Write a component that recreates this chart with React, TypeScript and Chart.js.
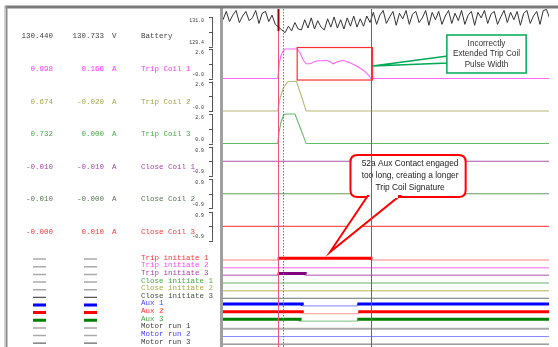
import React, { useEffect, useRef } from "react";
import { Chart, registerables } from "chart.js";

Chart.register(...registerables);

// ---------- time axis (ms) ----------
const X_MIN = -33.5;
const X_MAX = 166;
const cursorTimes = [0, 57];
const dottedCursorTime = 3;

// ---------- Battery (V), sampled every 2 ms ----------
const batteryStart = -33.5;
const batteryStep = 2;
const batteryValues = [
  130.85, 131.3, 130.75, 131.1, 131.35, 130.7, 131.05, 131.3, 130.8, 130.95, 131.35, 130.65, 131.2, 131.3, 130.75, 131.1, 130.6,
  130.45, 130.3, 130.15, 130.5, 130.25, 130.7, 130.35, 130.3, 130.85, 130.4, 130.95, 130.35, 130.8, 130.45, 130.3, 130.9,
  130.45, 131.0, 130.4, 130.85, 130.35, 130.95, 130.5, 131.05, 130.45, 130.9, 130.5, 131.05, 130.7,
  131.25, 130.6, 131.1, 131.35, 130.65, 131.0, 131.3, 130.55, 131.2, 130.9, 131.35, 130.6, 131.15, 131.3, 130.7, 130.95,
  131.35, 130.55, 131.25, 130.85, 131.3, 130.6, 131.05, 131.35, 130.65, 131.2, 130.8, 131.35, 130.6, 131.1, 131.3, 130.55,
  131.25, 130.95, 131.35, 130.65, 131.15, 131.3, 130.6, 131.0, 131.35, 130.7, 131.25, 130.85, 131.3, 130.55, 131.2, 131.35,
  130.65, 131.05, 131.3, 130.6, 131.35, 131.4, 130.9,
];

// ---------- coil currents (A): [time ms, value] ----------
const tripCoil1 = [
  [X_MIN, 0], [0, 0], [0.5, 0.6], [1.0, 1.4], [1.8, 1.9], [3.0, 2.35], [4.5, 2.6], [11.9, 2.6], [13.7, 2.25],
  [15.5, 1.65], [17.4, 1.3], [19.8, 1.3], [22.3, 1.47], [24.7, 1.56], [27.2, 1.56], [29.6, 1.6], [32.0, 1.47],
  [33.9, 1.3], [36.3, 1.47], [40.0, 1.6], [42.4, 1.47], [45.5, 1.3], [49.1, 1.04], [52.8, 0.69], [55.2, 0.35],
  [57.1, 0], [X_MAX, 0],
];
const tripCoil2 = [
  [X_MIN, 0], [0, 0], [1.5, 1.15], [3.4, 2.0], [5.9, 2.55], [7.0, 2.6], [11.5, 2.6], [14.5, 1.3], [17.4, 0], [X_MAX, 0],
];
const tripCoil3 = [
  [X_MIN, 0], [0, 0], [0.8, 1.0], [2.0, 1.9], [3.5, 2.5], [5.0, 2.6], [10.5, 2.6], [14.0, 1.3], [17.4, 0], [X_MAX, 0],
];
const closeCoil1 = [[X_MIN, 0], [X_MAX, 0]];
const closeCoil2 = [[X_MIN, 0], [X_MAX, 0]];
const closeCoil3 = [[X_MIN, 0], [X_MAX, 0]];

// ---------- digital channels: [time ms, state] (state holds from that time) ----------
const tripInit1 = [[X_MIN, 0], [0, 1], [57, 0], [X_MAX, 0]];
const tripInit2 = [[X_MIN, 0], [X_MAX, 0]];
const tripInit3 = [[X_MIN, 0], [0, 1], [16.8, 0], [X_MAX, 0]];
const closeInit1 = [[X_MIN, 0], [X_MAX, 0]];
const closeInit2 = [[X_MIN, 0], [X_MAX, 0]];
const closeInit3 = [[X_MIN, 0], [X_MAX, 0]];
const aux1 = [[X_MIN, 1], [15.0, 0], [48.7, 1], [X_MAX, 1]];
const aux2 = [[X_MIN, 1], [15.0, 0], [49.3, 1], [X_MAX, 1]];
const aux3 = [[X_MIN, 1], [13.7, 0], [48.7, 1], [X_MAX, 1]];
const motorRun1 = [[X_MIN, 0], [X_MAX, 0]];
const motorRun2 = [[X_MIN, 0], [X_MAX, 0]];
const motorRun3 = [[X_MIN, 0], [X_MAX, 0]];

// ---------- table text ----------
const analogNames = ["Battery", "Trip Coil 1", "Trip Coil 2", "Trip Coil 3", "Close Coil 1", "Close Coil 2", "Close Coil 3"];
const analogUnits = ["V", "A", "A", "A", "A", "A", "A"];
const analogCursor1 = ["130.440", "0.998", "0.674", "0.732", "-0.010", "-0.010", "-0.000"];
const analogCursor2 = ["130.733", "0.166", "-0.020", "0.000", "-0.010", "-0.000", "0.010"];
const analogTickValues = [
  [129.4, 130.2, 131.0], [0, 1.3, 2.6], [0, 1.3, 2.6], [0, 1.3, 2.6], [-0.9, 0, 0.9], [-0.9, 0, 0.9], [-0.9, 0, 0.9],
];
const analogTickLabels = [
  ["129.4", "131.0"], ["-0.0", "2.6"], ["-0.0", "2.6"], ["0.0", "2.6"], ["-0.9", "0.9"], ["-0.9", "0.9"], ["-0.9", "0.9"],
];
const analogMin = [129.35, -0.13, -0.13, -0.13, -1.01, -1.01, -1.01];
const analogMax = [131.43, 2.73, 2.73, 2.73, 1.01, 1.01, 1.01];

const digitalNames = [
  "Trip initiate 1", "Trip initiate 2", "Trip initiate 3", "Close initiate 1", "Close initiate 2", "Close initiate 3",
  "Aux 1", "Aux 2", "Aux 3", "Motor run 1", "Motor run 2", "Motor run 3",
];

// ---------- styles ----------
const analogSeries = [null, tripCoil1, tripCoil2, tripCoil3, closeCoil1, closeCoil2, closeCoil3];
const analogLineColors = ["#333333", "#ff66ff", "#b8b878", "#66bb66", "#aa55aa", "#669966", "#ff5555"];
const analogTextColors = ["#444444", "#ff33ff", "#a8a848", "#44aa44", "#aa44aa", "#557755", "#ff3333"];
const analogWeights = [38.5, 32.5, 32.5, 32.5, 32.5, 32.5, 32.5];
const GAP_WEIGHT = 12.7;
const DIGITAL_WEIGHT = 7.64;

const digitalSeries = [tripInit1, tripInit2, tripInit3, closeInit1, closeInit2, closeInit3, aux1, aux2, aux3, motorRun1, motorRun2, motorRun3];
const digitalLoColors = ["#ffaaaa", "#ff99ff", "#cc88cc", "#99cc99", "#cccc88", "#667766", "#9999ff", "#ffaaaa", "#99cc99", "#aaaaaa", "#8888ff", "#666666"];
const digitalHiColors = ["#ff0000", "#ff00ff", "#800080", "#008000", "#999900", "#334433", "#0000ff", "#ff0000", "#008000", "#777777", "#0000ff", "#333333"];
const digitalLoWidths = [1.5, 1.5, 1.5, 1.5, 1.5, 1, 1.2, 1.2, 1.2, 2, 1.2, 1];
const digitalTextColors = ["#ff3333", "#ff44ff", "#aa44aa", "#44aa44", "#aaaa44", "#445544", "#4444ff", "#ff3333", "#44aa44", "#444444", "#4444ff", "#444444"];
const digitalDashColors = ["#aaaaaa", "#aaaaaa", "#aaaaaa", "#aaaaaa", "#aaaaaa", "#555555", "#0000ff", "#ff0000", "#008000", "#aaaaaa", "#aaaaaa", "#666666"];
const digitalDashWidths = [1.5, 1.5, 1.5, 1.5, 1.5, 1.2, 3, 3, 3, 1.5, 1.5, 1.2];

const AXIS_W = 223;
const MONO = '"Liberation Mono", "DejaVu Sans Mono", monospace';
const SANS = '"Liberation Sans", Arial, sans-serif';

const analogIds = analogNames.map((_, i) => "ya" + i);
const digitalIds = digitalNames.map((_, i) => "yd" + i);

function toPts(arr: number[][]) {
  return arr.map((p) => ({ x: p[0], y: p[1] }));
}

function fixFit(s: any) {
  s.width = AXIS_W;
  s.paddingTop = 0;
  s.paddingBottom = 0;
  s.paddingLeft = 0;
  s.paddingRight = 0;
}

function buildDatasets() {
  const ds: any[] = [];
  ds.push({
    data: batteryValues.map((v, i) => ({ x: batteryStart + i * batteryStep, y: v })),
    yAxisID: analogIds[0],
    borderColor: analogLineColors[0],
    borderWidth: 1,
    pointRadius: 0,
  });
  for (let i = 1; i < analogSeries.length; i++) {
    ds.push({
      data: toPts(analogSeries[i] as number[][]),
      yAxisID: analogIds[i],
      borderColor: analogLineColors[i],
      borderWidth: 1.1,
      pointRadius: 0,
    });
  }
  digitalSeries.forEach((s, i) => {
    ds.push({
      data: toPts(s),
      yAxisID: digitalIds[i],
      stepped: true,
      borderColor: digitalLoColors[i],
      borderWidth: digitalLoWidths[i],
      borderCapStyle: "butt",
      pointRadius: 0,
      segment: {
        borderColor: (c: any) => (c.p0.parsed.y > 0.5 ? digitalHiColors[i] : digitalLoColors[i]),
        borderWidth: (c: any) => (c.p0.parsed.y > 0.5 ? 3 : digitalLoWidths[i]),
      },
    });
  });
  return ds;
}

function buildScales() {
  const scales: any = {
    x: { type: "linear", min: X_MIN, max: X_MAX, display: false, ticks: { display: false }, grid: { display: false } },
  };
  let order = 100;
  analogIds.forEach((id, i) => {
    scales[id] = {
      type: "linear",
      position: "left",
      stack: "rows",
      stackWeight: analogWeights[i],
      weight: order--,
      min: analogMin[i],
      max: analogMax[i],
      bounds: "data",
      grid: { display: false, drawTicks: false },
      border: { display: false },
      afterBuildTicks: (s: any) => {
        s.ticks = analogTickValues[i].map((v) => ({ value: v }));
      },
      afterFit: fixFit,
      ticks: {
        autoSkip: false,
        padding: 19,
        color: "#3a3a3a",
        font: { family: MONO, size: 4.9, lineHeight: 1.5 },
        callback: (_v: any, idx: number) =>
          idx === 0 ? [analogTickLabels[i][0], ""] : idx === 2 ? ["", analogTickLabels[i][1]] : "",
      },
    };
  });
  scales.ygap = {
    type: "linear",
    position: "left",
    stack: "rows",
    stackWeight: GAP_WEIGHT,
    weight: order--,
    min: 0,
    max: 1,
    grid: { display: false, drawTicks: false },
    border: { display: false },
    ticks: { display: false },
    afterFit: fixFit,
  };
  digitalIds.forEach((id) => {
    scales[id] = {
      type: "linear",
      position: "left",
      stack: "rows",
      stackWeight: DIGITAL_WEIGHT,
      weight: order--,
      min: -1.5,
      max: 2.5,
      grid: { display: false, drawTicks: false },
      border: { display: false },
      ticks: { display: false },
      afterFit: fixFit,
    };
  });
  return scales;
}

// ---------- annotation layout ----------
const redBox = { t0: 11.9, t1: 58, vTop: 2.73, vBottom: -0.13 };
const greenNote = {
  t0: 103.5, t1: 152, top: 35, bottom: 73,
  lines: ["Incorrectly", "Extended Trip Coil", "Pulse Width"],
  tipT: 58, tipY: 66, baseY0: 56, baseY1: 63,
};
const redNote = {
  t0: 44.5, t1: 115, top: 155, bottom: 197,
  lines: ["52a Aux Contact engaged", "too long, creating a longer", "Trip Coil Signature"],
  baseT0: 55, baseT1: 74.5, tipT: 32, tipY: 252,
};

function roundRect(ctx: CanvasRenderingContext2D, x: number, y: number, w: number, h: number, r: number) {
  ctx.beginPath();
  ctx.moveTo(x + r, y);
  ctx.lineTo(x + w - r, y);
  ctx.quadraticCurveTo(x + w, y, x + w, y + r);
  ctx.lineTo(x + w, y + h - r);
  ctx.quadraticCurveTo(x + w, y + h, x + w - r, y + h);
  ctx.lineTo(x + r, y + h);
  ctx.quadraticCurveTo(x, y + h, x, y + h - r);
  ctx.lineTo(x, y + r);
  ctx.quadraticCurveTo(x, y, x + r, y);
  ctx.closePath();
}

const overlayPlugin = {
  id: "overlay",
  beforeDraw(chart: any) {
    const { ctx } = chart;
    ctx.save();
    ctx.fillStyle = "#ffffff";
    ctx.fillRect(0, 0, chart.width, chart.height);

    ctx.font = `7.5px ${MONO}`;
    ctx.textBaseline = "middle";
    analogIds.forEach((id, i) => {
      const s = chart.scales[id];
      const y = s.bottom - 11;
      ctx.fillStyle = analogTextColors[i];
      ctx.textAlign = "right";
      ctx.fillText(analogCursor1[i], 53, y);
      ctx.fillText(analogCursor2[i], 104, y);
      ctx.textAlign = "left";
      ctx.fillText(analogUnits[i], 112, y);
      ctx.fillText(analogNames[i], 141, y);
      // bracket
      const px = analogTickValues[i].map((v) => s.getPixelForValue(v));
      ctx.strokeStyle = "#555555";
      ctx.lineWidth = 1;
      ctx.beginPath();
      ctx.moveTo(212.5, Math.min(...px));
      ctx.lineTo(212.5, Math.max(...px));
      px.forEach((p) => {
        ctx.moveTo(209, Math.round(p) + 0.5);
        ctx.lineTo(213, Math.round(p) + 0.5);
      });
      ctx.stroke();
    });
    digitalIds.forEach((id, i) => {
      const s = chart.scales[id];
      const y = (s.top + s.bottom) / 2;
      ctx.fillStyle = digitalTextColors[i];
      ctx.textAlign = "left";
      ctx.fillText(digitalNames[i], 141, y - 1.5);
      ctx.strokeStyle = digitalDashColors[i];
      ctx.lineWidth = digitalDashWidths[i];
      ctx.beginPath();
      ctx.moveTo(33, y);
      ctx.lineTo(46, y);
      ctx.moveTo(84, y);
      ctx.lineTo(97, y);
      ctx.stroke();
    });
    ctx.restore();
  },
  afterDatasetsDraw(chart: any) {
    const { ctx, chartArea } = chart;
    const xs = chart.scales.x;
    const tc1 = chart.scales[analogIds[1]];
    ctx.save();

    // red highlight box
    const bx0 = xs.getPixelForValue(redBox.t0);
    const bx1 = xs.getPixelForValue(redBox.t1);
    const by0 = tc1.getPixelForValue(redBox.vTop);
    const by1 = tc1.getPixelForValue(redBox.vBottom);
    ctx.strokeStyle = "#ff3030";
    ctx.lineWidth = 1.2;
    ctx.strokeRect(bx0, by0, bx1 - bx0, by1 - by0);

    // green callout
    const gx0 = xs.getPixelForValue(greenNote.t0);
    const gx1 = xs.getPixelForValue(greenNote.t1);
    const gtx = xs.getPixelForValue(greenNote.tipT);
    ctx.fillStyle = "#ffffff";
    ctx.strokeStyle = "#00aa55";
    ctx.lineWidth = 1.5;
    ctx.beginPath();
    ctx.moveTo(gx0 + 1, greenNote.baseY0);
    ctx.lineTo(gtx, greenNote.tipY);
    ctx.lineTo(gx0 + 1, greenNote.baseY1);
    ctx.closePath();
    ctx.fill();
    ctx.stroke();
    ctx.beginPath();
    ctx.rect(gx0, greenNote.top, gx1 - gx0, greenNote.bottom - greenNote.top);
    ctx.fill();
    ctx.stroke();
    ctx.fillStyle = "#333333";
    ctx.font = `8.2px ${SANS}`;
    ctx.textAlign = "center";
    ctx.textBaseline = "middle";
    greenNote.lines.forEach((t, k) => ctx.fillText(t, (gx0 + gx1) / 2, greenNote.top + 8.5 + k * 10.5));

    // red callout
    const rx0 = xs.getPixelForValue(redNote.t0);
    const rx1 = xs.getPixelForValue(redNote.t1);
    const rb0 = xs.getPixelForValue(redNote.baseT0);
    const rb1 = xs.getPixelForValue(redNote.baseT1);
    const rtx = xs.getPixelForValue(redNote.tipT);
    ctx.strokeStyle = "#ff0000";
    ctx.lineWidth = 2;
    ctx.fillStyle = "#ffffff";
    roundRect(ctx, rx0, redNote.top, rx1 - rx0, redNote.bottom - redNote.top, 7);
    ctx.fill();
    ctx.stroke();
    ctx.beginPath();
    ctx.moveTo(rb0, redNote.bottom - 1);
    ctx.lineTo(rtx, redNote.tipY);
    ctx.lineTo(rb1, redNote.bottom - 1);
    ctx.closePath();
    ctx.fill();
    ctx.stroke();
    ctx.fillStyle = "#ffffff";
    ctx.fillRect(rb0 + 1.5, redNote.bottom - 3, rb1 - rb0 - 3, 4);
    ctx.fillStyle = "#222222";
    ctx.font = `8.4px ${SANS}`;
    redNote.lines.forEach((t, k) => ctx.fillText(t, (rx0 + rx1) / 2 + 2, redNote.top + 9 + k * 12));

    // cursors
    const top = chartArea.top;
    const bottom = chart.height;
    const c1 = Math.round(xs.getPixelForValue(cursorTimes[0])) + 0.5;
    ctx.strokeStyle = "#ee5577";
    ctx.lineWidth = 1;
    ctx.beginPath();
    ctx.moveTo(c1, top);
    ctx.lineTo(c1, bottom);
    ctx.stroke();
    ctx.strokeStyle = "#990000";
    ctx.lineWidth = 2;
    ctx.beginPath();
    ctx.moveTo(c1, top);
    ctx.lineTo(c1, top + 22);
    ctx.stroke();
    const cd = Math.round(xs.getPixelForValue(dottedCursorTime)) + 0.5;
    ctx.strokeStyle = "#777777";
    ctx.lineWidth = 1;
    ctx.setLineDash([1.5, 1.5]);
    ctx.beginPath();
    ctx.moveTo(cd, top);
    ctx.lineTo(cd, bottom);
    ctx.stroke();
    ctx.setLineDash([]);
    const c2 = Math.round(xs.getPixelForValue(cursorTimes[1])) + 0.5;
    ctx.strokeStyle = "#4466dd";
    ctx.beginPath();
    ctx.moveTo(c2, top);
    ctx.lineTo(c2, bottom);
    ctx.stroke();

    // frame
    ctx.fillStyle = "#a0a0a0";
    ctx.fillRect(chartArea.left - 3, top - 1, 3, bottom - top + 1);
    ctx.fillStyle = "#7a7a7a";
    ctx.fillRect(5, 5.5, chart.width - 5, 3);
    ctx.fillStyle = "#8a8a8a";
    ctx.fillRect(5.5, 6, 2, bottom - 6);
    ctx.fillStyle = "#d0d0d0";
    ctx.fillRect(4, 6, 1.5, bottom - 6);
    ctx.restore();
  },
};

export default function App() {
  const ref = useRef<HTMLCanvasElement>(null);
  useEffect(() => {
    const chart = new Chart(ref.current as HTMLCanvasElement, {
      type: "line",
      data: { datasets: buildDatasets() },
      options: {
        responsive: false,
        animation: false,
        devicePixelRatio: 1,
        layout: { autoPadding: false, padding: { top: 9, right: 9, bottom: 0, left: 0 } },
        plugins: { legend: { display: false }, tooltip: { enabled: false } },
        elements: { line: { tension: 0 } },
        scales: buildScales(),
      },
      plugins: [overlayPlugin],
    } as any);
    return () => chart.destroy();
  }, []);
  return (
    <div style={{ position: "fixed", left: 0, top: 0, width: 558, height: 347, background: "#fff" }}>
      <canvas ref={ref} width={558} height={347} style={{ display: "block" }} />
    </div>
  );
}
